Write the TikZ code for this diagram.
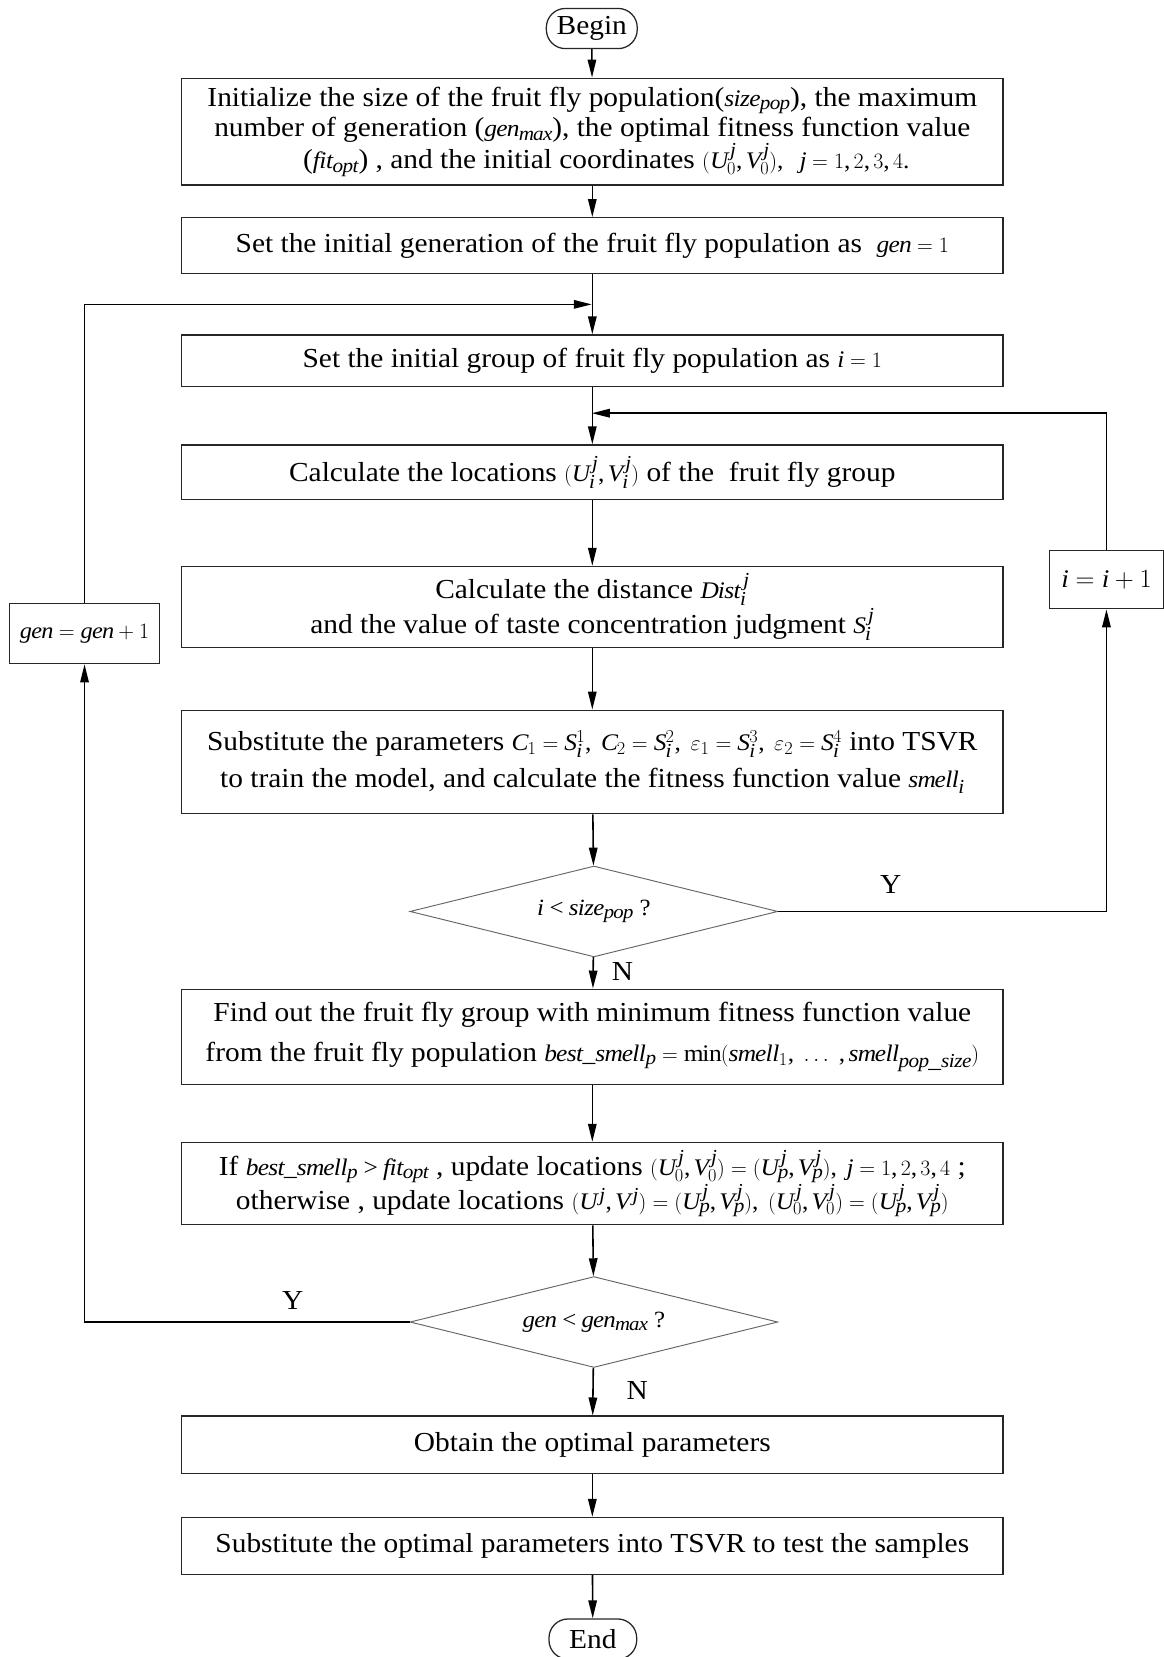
\documentclass[tikz,border=0pt]{standalone}
\usepackage{fontspec}
\setmainfont{Liberation Serif}[FakeStretch=1.07]
\usepackage[italic]{mathastext}
\usetikzlibrary{shapes.geometric,arrows.meta}
\newcommand{\fm}[1]{{\fontsize{22.5}{26}\selectfont$#1$}}
\tikzset{
  box/.style={draw=black!85, line width=1.2pt, minimum width=777pt, inner sep=0pt,
    align=center, font=\fontsize{26}{29}\selectfont},
  term/.style={draw=black!85, line width=1.2pt, rounded corners=18pt, minimum width=86pt,
    minimum height=38pt, inner sep=0pt, font=\fontsize{26}{29}\selectfont},
  decide/.style={diamond, aspect=4, draw=black!60, line width=0.9pt, minimum width=348pt,
    minimum height=86pt, inner sep=0pt, font=\fontsize{22}{26}\selectfont},
  side/.style={draw=black!85, line width=1.2pt, inner sep=0pt, font=\fontsize{24}{28}\selectfont},
  lbl/.style={font=\fontsize{26}{30}\selectfont},
  arr/.style={line width=1.5pt, -{Triangle[length=17pt,width=8pt]}}
}
\begin{document}
\begin{tikzpicture}[x=1pt,y=-1pt]
    \useasboundingbox (0,0) rectangle (1101,1568);
    % 开始
    \node[term] (begin) at (560,27) {Begin};
    \node[box, minimum height=101pt] (init) at (560.5,124.5) {Initialize the size of the fruit fly population(\fm{size_{pop}}), the maximum\\
      number of generation (\fm{gen_{max}}), the optimal fitness function value\\
      \quad(\fm{fit_{opt}}) , and\ the initial coordinates \fm{(U_0^{\,j},V_0^{\,j}),\ \ j=1,2,3,4.}};
    \node[box, minimum height=53pt] (gen1) at (560.5,232.5) {Set the initial generation of the fruit fly population as\ \ \fm{gen=1}};
    \node[box, minimum height=49pt] (grp1) at (560.5,341.5) {Set the initial group of fruit fly population as \fm{i=1}};
    \node[box, minimum height=52pt] (loc) at (560.5,447) {Calculate the locations \fm{(U_i^{\,j},V_i^{\,j})} of the\ \ fruit fly group};
    \node[box, minimum height=77pt] (dist) at (560.5,574.5) {Calculate the distance \fm{Dist_i^{\,j}}\\[2pt]
      and the value of taste concentration judgment \fm{S_i^{\,j}}};
    \node[box, minimum height=98pt] (fit) at (560.5,721) {Substitute the parameters \fm{C_1=S_i^1,\ C_2=S_i^2,\ \varepsilon_1=S_i^3,\ \varepsilon_2=S_i^4} into TSVR\\[6pt]
      to train the model, and calculate the fitness function value \fm{smell_i}};
    % 判断 i
    \node[decide] (dec1) at (562,862.5) {$i<size_{pop}$ ?};
    \node[box, minimum height=90pt] (best) at (560.5,981) {Find out the fruit fly group with minimum fitness function value\\[9pt]
      from the fruit fly population \fm{best\_smell_p=\mathrm{min}(smell_1,\ \ldots\ ,smell_{pop\_size})}};
    \node[box, minimum height=78pt] (upd) at (560.5,1120) {If \fm{best\_smell_p>fit_{opt}} , update locations \fm{(U_0^{\,j},V_0^{\,j})=(U_p^{\,j},V_p^{\,j}),\ j=1,2,3,4} ;\\
      otherwise , update locations \fm{(U^{\,j},V^{\,j})=(U_p^{\,j},V_p^{\,j}),\ (U_0^{\,j},V_0^{\,j})=(U_p^{\,j},V_p^{\,j})}};
    % 判断 gen
    \node[decide] (dec2) at (562,1251) {$gen<gen_{max}$ ?};
    \node[box, minimum height=54pt] (opt) at (560.5,1367) {Obtain the optimal parameters};
    \node[box, minimum height=54pt] (test) at (560.5,1463) {Substitute the optimal parameters into TSVR to test the samples};
    \node[term, minimum width=83pt] (end) at (561,1551) {End};
    % 两侧的更新框
    \node[side, minimum width=142pt, minimum height=57pt, font=\fontsize{21.5}{26}\selectfont] (geninc) at (80,599.5) {$gen=gen+1$};
    \node[side, minimum width=108pt, minimum height=55pt] (iinc) at (1047,548.5) {$i=i+1$};
    \coordinate (jgen) at (560,288);
    \coordinate (ji) at (560,391);
    % 主流程箭头
    \draw[arr] (begin) -- (init);
    \draw[arr] (init) -- (gen1);
    \draw[arr] (gen1) -- (grp1);
    \draw[arr] (grp1) -- (loc);
    \draw[arr] (loc) -- (dist);
    \draw[arr] (dist) -- (fit);
    \draw[arr] (fit) -- (dec1);
    \draw[arr] (dec1) -- (best);
    \draw[arr] (best) -- (upd);
    \draw[arr] (upd) -- (dec2);
    \draw[arr] (dec2) -- (opt);
    \draw[arr] (opt) -- (test);
    \draw[arr] (test) -- (end);
    % 循环
    \draw[arr] (dec1.east) -| (iinc.south);
    \draw[arr] (iinc.north) |- (ji);
    \draw[arr] (dec2.west) -| (geninc.south);
    \draw[arr] (geninc.north) |- (jgen);
    \node[lbl] (y1) at (843,837) {Y};
    \node[lbl] (n1) at (589,919) {N};
    \node[lbl] (y2) at (277,1231) {Y};
    \node[lbl] (n2) at (603,1316) {N};
\end{tikzpicture}
\end{document}
